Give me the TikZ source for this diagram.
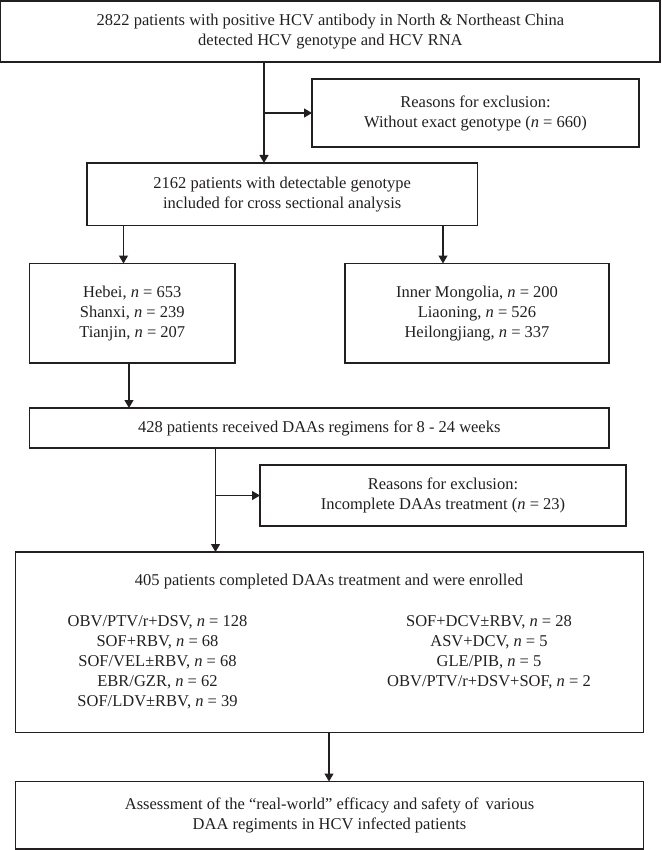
\documentclass[tikz,border=0pt]{standalone}
\usepackage{fontspec}
\setmainfont{Liberation Serif}
\usetikzlibrary{arrows.meta}
\definecolor{ink}{HTML}{231F20}
\newcommand{\ivar}{\textit{n}}
\begin{document}
\begin{tikzpicture}[x=1pt,y=-1pt,
  box/.style={draw=ink, line width=1.2pt, rectangle, inner sep=0pt, outer sep=0pt,
    align=center, text=ink, font=\fontsize{16.5}{20}\selectfont},
  txt/.style={inner sep=0pt, align=center, text=ink, font=\fontsize{16.5}{20}\selectfont},
  arr/.style={draw=ink, line width=1.2pt, -{Triangle[length=8pt,width=9pt]}},
  ln/.style={draw=ink, line width=1.2pt}]
\useasboundingbox (0,0) rectangle (661,850);

\node[box, minimum width=659.25pt, minimum height=61pt] (b1) at (330.4,31.5)
  {2822 patients with positive HCV antibody in North \& Northeast China\\detected HCV genotype and HCV RNA};
\node[box, minimum width=327pt, minimum height=68pt] (e1) at (475.5,113)
  {Reasons for exclusion:\\Without exact genotype (\ivar{} = 660)};
\node[box, minimum width=390.5pt, minimum height=62.5pt] (b2) at (282.25,194.25)
  {2162 patients with detectable genotype\\included for cross sectional analysis};
\node[box, minimum width=205.5pt, minimum height=99.5pt] (h) at (132.25,313.25)
  {Hebei, \ivar{} = 653\\Shanxi, \ivar{} = 239\\Tianjin, \ivar{} = 207};
\node[box, minimum width=264pt, minimum height=99.5pt] (m) at (477,313.25)
  {Inner Mongolia, \ivar{} = 200\\Liaoning, \ivar{} = 526\\Heilongjiang, \ivar{} = 337};
\node[box, minimum width=579.5pt, minimum height=40pt] (r428) at (319.25,428)
  {428 patients received DAAs regimens for 8 - 24 weeks};
\node[box, minimum width=366pt, minimum height=61pt] (e2) at (443,495.5)
  {Reasons for exclusion:\\Incomplete DAAs treatment (\ivar{} = 23)};
\node[box, minimum width=628pt, minimum height=180.5pt] (r405) at (329.5,642.25) {};
\node[txt] (t405) at (329,582) {405 patients completed DAAs treatment and were enrolled};
\node[txt] (lcol) at (157.5,662)
  {OBV/PTV/r+DSV, \ivar{} = 128\\SOF+RBV, \ivar{} = 68\\SOF/VEL±RBV, \ivar{} = 68\\EBR/GZR, \ivar{} = 62\\SOF/LDV±RBV, \ivar{} = 39};
\node[txt] (rcol) at (489,652)
  {SOF+DCV±RBV, \ivar{} = 28\\ASV+DCV, \ivar{} = 5\\GLE/PIB, \ivar{} = 5\\OBV/PTV/r+DSV+SOF, \ivar{} = 2};
\node[box, minimum width=628pt, minimum height=67.5pt] (fin) at (329.5,815.25)
  {Assessment of the “real-world” efficacy and safety of\, various\\DAA regiments in HCV infected patients};

% connectors
\coordinate (j1) at (264,113);
\draw[arr] (b1.south -| j1) -- (b2.north -| j1);
\draw[arr] (j1) -- (e1.west);
\coordinate (j2) at (123.5,240);
\draw[arr] (b2.south -| j2) -- (h.north -| j2);
\coordinate (j3) at (443,240);
\draw[arr] (b2.south -| j3) -- (m.north -| j3);
\coordinate (j4) at (129,390);
\draw[arr] (h.south -| j4) -- (r428.north -| j4);
\coordinate (j5) at (215.5,495.5);
\draw[arr] (r428.south -| j5) -- (r405.north -| j5);
\draw[arr] (j5) -- (e2.west);
\coordinate (j6) at (329,760);
\draw[arr] (r405.south -| j6) -- (fin.north -| j6);
\end{tikzpicture}
\end{document}
